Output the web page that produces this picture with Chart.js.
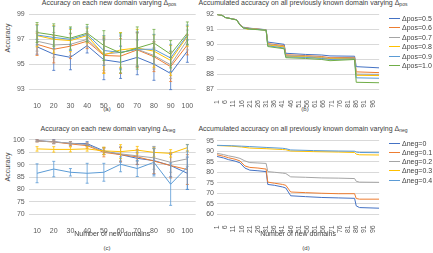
<!DOCTYPE html>
<html>
<head>
<meta charset="utf-8">
<script src="https://cdn.jsdelivr.net/npm/chart.js@4.4.0/dist/chart.umd.min.js"></script>
<style>
  body { margin: 0; width: 433px; height: 253px; background: #fff; position: relative; overflow: hidden;
         font-family: "Liberation Sans", Arial, sans-serif; color: #404040; }
  canvas { position: absolute; }
  .t { position: absolute; font-size: 7px; white-space: nowrap; line-height: 1; transform: translate(-50%, -50%); }
  .t sub { font-size: 5px; vertical-align: -1px; line-height: 0; }
  .yl { transform: translate(-50%, -50%) rotate(-90deg); }
  .leg { position: absolute; font-size: 7px; line-height: 1; white-space: nowrap; }
  .leg i { position: absolute; left: -13px; top: 3px; width: 11px; height: 1px; }
</style>
</head>
<body>
<div class="t" style="left:109px;top:1.5px">Accuracy on each new domain varying Δ<sub>pos</sub></div>
<div class="t" style="left:303px;top:1.5px">Accumulated accuracy on all previously known domain varying Δ<sub>pos</sub></div>
<div class="t" style="left:108px;top:128px">Accuracy on each new domain varying Δ<sub>neg</sub></div>
<div class="t" style="left:303px;top:128px">Accumulated accuracy on all previously known domain varying Δ<sub>neg</sub></div>
<div class="t yl" style="left:6.5px;top:38px">Accuracy</div>
<div class="t yl" style="left:6.5px;top:167px">Accuracy</div>
<div class="t" style="left:107px;top:109px;font-size:6px">(a)</div>
<div class="t" style="left:305px;top:109px;font-size:6px">(b)</div>
<div class="t" style="left:107px;top:247.5px;font-size:6px">(c)</div>
<div class="t" style="left:306px;top:247.5px;font-size:6px">(d)</div>

<canvas id="chartA" width="200" height="112" style="left:0;top:0"></canvas>
<canvas id="chartB" width="188" height="112" style="left:196px;top:0"></canvas>
<canvas id="chartC" width="200" height="113" style="left:0;top:125px"></canvas>
<canvas id="chartD" width="188" height="113" style="left:196px;top:125px"></canvas>
<div id="legendB"></div>
<div id="legendD"></div>

<script>
// categories / tick labels
const newDomains = ['10', '20', '30', '40', '50', '60', '70', '80', '90', '100'];
const accumTicks = [1, 6, 11, 16, 21, 26, 31, 36, 41, 46, 51, 56, 61, 66, 71, 76, 81, 86, 91, 96];
const posLabels = ['Δpos=0.5', 'Δpos=0.6', 'Δpos=0.7', 'Δpos=0.8', 'Δpos=0.9', 'Δpos=1.0'];
const negLabels = ['Δneg=0', 'Δneg=0.1', 'Δneg=0.2', 'Δneg=0.3', 'Δneg=0.4'];

// (a) accuracy on each new domain, varying Δpos
const accPos05 = [96.4, 95.8, 95.55, 96.5, 95.35, 95.15, 95.55, 95.0, 94.25, 96.05];
const accPos06 = [96.6, 96.2, 96.45, 96.85, 95.7, 95.65, 96.15, 95.6, 94.8, 96.55];
const accPos07 = [96.85, 96.55, 96.6, 97.0, 95.8, 95.95, 96.2, 95.7, 94.95, 96.95];
const accPos08 = [97.3, 97.0, 96.9, 97.3, 95.75, 96.15, 96.3, 96.05, 95.3, 97.25];
const accPos09 = [97.35, 97.15, 97.0, 97.4, 96.1, 95.95, 96.2, 96.2, 95.5, 97.35];
const accPos10 = [97.55, 97.35, 97.1, 97.5, 96.5, 95.9, 96.3, 96.7, 95.8, 97.5];
const errPos05 = [0.6, 1.3, 1.0, 0.6, 1.6, 1.3, 1.4, 1.3, 1.3, 0.9];
const errPos06 = [0.9, 1.1, 1.0, 0.6, 1.4, 1.4, 1.4, 1.2, 1.2, 0.8];
const errPos07 = [0.8, 1.0, 0.9, 0.6, 1.3, 1.3, 1.3, 1.1, 1.1, 0.8];
const errPos08 = [0.9, 1.1, 0.9, 0.6, 1.5, 1.4, 1.5, 1.3, 1.2, 0.8];
const errPos09 = [0.8, 0.9, 0.9, 0.6, 1.2, 1.4, 1.4, 1.2, 1.1, 0.8];
const errPos10 = [0.8, 0.9, 0.9, 0.7, 1.2, 1.6, 1.7, 1.1, 1.1, 0.9];

// (b) accumulated accuracy, [domain, accuracy] at the break points of each curve
const cumPos05 = [[1, 92.0], [4, 91.95], [6, 91.8], [13, 91.65], [15, 91.35], [17, 91.15], [21, 91.08], [31, 90.98], [32, 90.15], [42, 90.0], [43, 89.4], [55, 89.32], [65, 89.28], [70, 89.22], [85, 89.2], [86, 88.5], [100, 88.42]];
const cumPos06 = [[1, 92.0], [4, 91.95], [6, 91.8], [13, 91.65], [15, 91.33], [17, 91.13], [21, 91.07], [31, 90.97], [32, 90.05], [42, 89.9], [43, 89.3], [55, 89.24], [65, 89.18], [70, 89.1], [85, 89.12], [86, 88.15], [100, 88.1]];
const cumPos07 = [[1, 92.0], [4, 91.95], [6, 91.8], [13, 91.65], [15, 91.32], [17, 91.12], [21, 91.05], [31, 90.96], [32, 90.0], [42, 89.85], [43, 89.25], [55, 89.2], [65, 89.12], [70, 89.05], [85, 89.08], [86, 88.0], [100, 87.98]];
const cumPos08 = [[1, 92.0], [4, 91.95], [6, 91.8], [13, 91.64], [15, 91.3], [17, 91.1], [20, 91.0], [21, 91.04], [31, 90.95], [32, 89.95], [42, 89.82], [43, 89.2], [55, 89.16], [65, 89.08], [70, 89.02], [85, 89.05], [86, 87.92], [100, 87.9]];
const cumPos09 = [[1, 92.0], [4, 91.95], [6, 91.8], [13, 91.64], [15, 91.3], [17, 91.1], [21, 91.03], [31, 90.95], [32, 89.9], [42, 89.75], [43, 89.15], [55, 89.12], [65, 89.05], [70, 88.98], [85, 89.02], [86, 87.75], [100, 87.72]];
const cumPos10 = [[1, 92.0], [4, 91.95], [6, 91.8], [13, 91.63], [15, 91.28], [17, 91.1], [21, 91.02], [31, 90.94], [32, 89.85], [42, 89.7], [43, 89.1], [55, 89.05], [65, 88.98], [70, 88.9], [85, 88.98], [86, 87.45], [100, 87.42]];

// (c) accuracy on each new domain, varying Δneg
const accNeg0  = [99.6, 99.2, 98.5, 98.4, 95.5, 94.0, 92.5, 91.6, 89.6, 86.5];
const accNeg01 = [99.5, 99.1, 98.3, 97.6, 94.9, 94.0, 93.1, 91.4, 89.6, 88.0];
const accNeg02 = [99.5, 99.1, 98.6, 98.0, 95.2, 94.3, 93.5, 92.7, 90.9, 92.3];
const accNeg03 = [96.3, 96.1, 96.1, 96.3, 95.5, 95.2, 95.8, 94.9, 94.5, 96.8];
const accNeg04 = [86.5, 88.2, 86.9, 86.5, 86.9, 90.1, 88.4, 90.9, 82.1, 89.0];
const errNeg0  = [0.4, 0.8, 0.7, 0.8, 1.4, 3.0, 2.5, 5.5, 4.5, 6.5];
const errNeg01 = [0.4, 0.7, 0.9, 1.0, 1.8, 2.8, 3.0, 5.0, 5.0, 6.0];
const errNeg02 = [0.3, 0.6, 0.6, 0.7, 1.2, 2.8, 2.2, 4.6, 4.0, 3.0];
const errNeg03 = [0.9, 1.1, 1.0, 0.9, 1.5, 2.8, 1.5, 1.8, 1.5, 1.3];
const errNeg04 = [3.8, 3.1, 1.5, 4.0, 3.6, 3.0, 3.2, 5.5, 8.5, 9.0];

// (d) accumulated accuracy, varying Δneg
const cumNeg0  = [[1, 87.5], [5, 86.8], [8, 86.0], [12, 85.3], [15, 84.5], [18, 82.0], [21, 81.0], [26, 80.7], [31, 80.3], [32, 74.2], [36, 73.8], [41, 73.0], [43, 72.5], [46, 68.8], [55, 68.4], [65, 68.0], [75, 67.8], [85, 67.6], [86, 64.0], [88, 63.2], [100, 62.9]];
const cumNeg01 = [[1, 88.3], [5, 87.6], [8, 86.9], [12, 86.2], [15, 85.4], [18, 83.0], [21, 82.3], [26, 82.0], [31, 81.5], [32, 75.3], [36, 74.8], [41, 74.2], [43, 73.8], [46, 70.6], [55, 70.3], [65, 70.0], [75, 69.8], [85, 69.8], [86, 67.5], [88, 67.2], [100, 67.2]];
const cumNeg02 = [[1, 89.0], [5, 88.4], [8, 87.8], [12, 87.2], [15, 86.6], [18, 85.4], [21, 84.6], [26, 84.4], [31, 84.2], [32, 80.3], [36, 80.0], [41, 79.6], [43, 79.4], [46, 77.8], [55, 77.6], [65, 77.3], [75, 77.2], [85, 77.0], [86, 75.7], [88, 75.3], [100, 75.2]];
const cumNeg03 = [[1, 92.7], [10, 92.4], [16, 92.0], [21, 91.5], [31, 91.2], [41, 90.8], [43, 90.7], [46, 90.1], [60, 89.8], [75, 89.6], [85, 89.4], [86, 88.6], [88, 88.3], [100, 88.2]];
const cumNeg04 = [[1, 92.8], [10, 92.6], [16, 92.4], [21, 92.2], [31, 91.8], [41, 91.4], [43, 91.2], [46, 90.6], [60, 90.3], [75, 90.1], [85, 90.0], [86, 89.6], [88, 89.4], [100, 89.3]];

const seriesColors = ['#4472C4', '#ED7D31', '#A5A5A5', '#FFC000', '#5B9BD5', '#70AD47'];
const gridColor = '#d9d9d9';

Chart.defaults.font.family = '"Liberation Sans", Arial, sans-serif';
Chart.defaults.font.size = 7;
Chart.defaults.color = '#595959';
Chart.defaults.animation = false;

// vertical error bars with caps, from the dataset's "errors" array
const errorBars = {
  id: 'errorBars',
  afterDatasetsDraw(chart) {
    const ctx = chart.ctx;
    const y = chart.scales.y;
    chart.data.datasets.forEach((ds, i) => {
      if (!ds.errors) return;
      const meta = chart.getDatasetMeta(i);
      ctx.save();
      ctx.strokeStyle = ds.borderColor;
      ctx.lineWidth = 0.8;
      meta.data.forEach((pt, j) => {
        const top = y.getPixelForValue(ds.data[j] + ds.errors[j]);
        const bot = y.getPixelForValue(ds.data[j] - ds.errors[j]);
        ctx.beginPath();
        ctx.moveTo(pt.x, top); ctx.lineTo(pt.x, bot);
        ctx.moveTo(pt.x - 1.5, top); ctx.lineTo(pt.x + 1.5, top);
        ctx.moveTo(pt.x - 1.5, bot); ctx.lineTo(pt.x + 1.5, bot);
        ctx.stroke();
      });
      ctx.restore();
    });
  }
};

function buildSets(labels, values, errors) {
  return labels.map((lab, i) => ({
    label: lab,
    data: values[i],
    errors: errors ? errors[i] : undefined,
    borderColor: seriesColors[i],
    backgroundColor: seriesColors[i],
    order: labels.length - i
  }));
}

function pairs(list) {
  return list.map(p => ({ x: p[0], y: p[1] }));
}

function yAxis(min, max, step, width, pad) {
  return {
    min: min, max: max,
    ticks: { stepSize: step, padding: pad, autoSkip: false },
    grid: { color: gridColor, drawTicks: false },
    border: { display: false },
    afterFit: s => { s.width = width; }
  };
}

function catAxis(height, title) {
  return {
    type: 'category', offset: true,
    grid: { display: false }, border: { display: false },
    ticks: { padding: 5, maxRotation: 0, autoSkip: false },
    title: { display: !!title, text: title, padding: 0, color: '#404040' },
    afterFit: s => { s.height = height; }
  };
}

function domainAxis(height, title) {
  return {
    type: 'linear', min: 1, max: 100,
    afterBuildTicks: s => { s.ticks = accumTicks.map(v => ({ value: v })); },
    grid: { display: false }, border: { display: false },
    ticks: { autoSkip: false, minRotation: 90, maxRotation: 90, padding: 3 },
    title: { display: !!title, text: title, padding: 0, color: '#404040' },
    afterFit: s => { s.height = height; }
  };
}

function makeChart(id, data, scales, padding, plugins) {
  return new Chart(document.getElementById(id), {
    type: 'line',
    data: data,
    options: {
      responsive: false,
      layout: { padding: padding },
      elements: { point: { radius: 0 }, line: { borderWidth: 1, tension: 0 } },
      plugins: { legend: { display: false }, tooltip: { enabled: false } },
      scales: scales
    },
    plugins: plugins || []
  });
}

makeChart('chartA',
  { labels: newDomains,
    datasets: buildSets(posLabels,
      [accPos05, accPos06, accPos07, accPos08, accPos09, accPos10],
      [errPos05, errPos06, errPos07, errPos08, errPos09, errPos10]) },
  { x: catAxis(23), y: yAxis(93, 99, 2, 28.7, 4) },
  { top: 14.5, right: 4.3, left: 0, bottom: 0 }, [errorBars]);

makeChart('chartB',
  { datasets: buildSets(posLabels,
      [cumPos05, cumPos06, cumPos07, cumPos08, cumPos09, cumPos10].map(pairs)) },
  { x: domainAxis(23), y: yAxis(87, 92, 1, 21, 3) },
  { top: 14.5, right: 0, left: 0, bottom: 0 });

makeChart('chartC',
  { labels: newDomains,
    datasets: buildSets(negLabels,
      [accNeg0, accNeg01, accNeg02, accNeg03, accNeg04],
      [errNeg0, errNeg01, errNeg02, errNeg03, errNeg04]) },
  { x: catAxis(23.7, 'Number of new domains'), y: yAxis(70, 100, 5, 28.7, 4) },
  { top: 14.7, right: 4.3, left: 0, bottom: 0 }, [errorBars]);

makeChart('chartD',
  { datasets: buildSets(negLabels,
      [cumNeg0, cumNeg01, cumNeg02, cumNeg03, cumNeg04].map(pairs)) },
  { x: domainAxis(23.7, 'Number of new domains'), y: yAxis(60, 95, 5, 21, 3) },
  { top: 15.7, right: 0, left: 0, bottom: 0 });

// legends on the right of (b) and (d)
function buildLegend(id, labels, top, step) {
  const box = document.getElementById(id);
  labels.forEach((lab, i) => {
    const d = document.createElement('div');
    d.className = 'leg';
    d.style.left = '402px';
    d.style.top = (top + i * step - 3.5) + 'px';
    d.innerHTML = '<i style="background:' + seriesColors[i] + '"></i>' + lab;
    box.appendChild(d);
  });
}
buildLegend('legendB', posLabels, 18.3, 9.5);
buildLegend('legendD', negLabels, 143.3, 9.2);
</script>
</body>
</html>
